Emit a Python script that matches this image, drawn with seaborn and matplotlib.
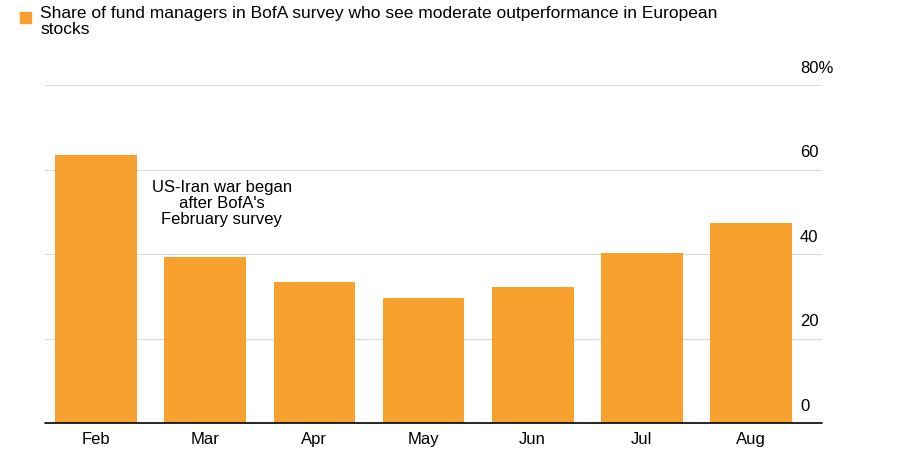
import matplotlib.pyplot as plt
import seaborn as sns
import pandas as pd

months = ['Feb', 'Mar', 'Apr', 'May', 'Jun', 'Jul', 'Aug']
share = [63.5, 39.3, 33.5, 29.5, 32.3, 40.3, 47.3]
ytick_vals = [0, 20, 40, 60, 80]
ytick_labels = ['0', '20', '40', '60', '80%']

df = pd.DataFrame({'month': months, 'share': share})

sns.set_theme(style="white")
plt.rcParams['font.family'] = ['Liberation Sans', 'DejaVu Sans']
plt.rcParams['text.color'] = 'black'

fig = plt.figure(figsize=(9, 4.62), dpi=100)
ax = fig.add_axes([0.05, 0.084, 0.863, 0.732])

for v in ytick_vals[1:]:
    ax.axhline(v, color='#d9d9d9', linewidth=0.8, zorder=0)

sns.barplot(data=df, x='month', y='share', color='#F9A12E', saturation=1,
            width=0.75, linewidth=0, ax=ax, zorder=2)

ax.axhline(0, color='black', linewidth=1.2, zorder=3, clip_on=False)
ax.set_xlim(-0.47, 6.65)
ax.set_ylim(0, 80)
ax.set_yticks([])
ax.set_xlabel('')
ax.set_ylabel('')
ax.tick_params(axis='x', length=0, labelsize=12, pad=6, labelcolor='black')
for s in ax.spines.values():
    s.set_visible(False)

trans = ax.get_yaxis_transform()
for v, lab in zip(ytick_vals, ytick_labels):
    ax.text(0.972, v + 2.2, lab, transform=trans, ha='left', va='bottom',
            fontsize=12, color='black')

ax.text(1.15, 52, "US-Iran war began\nafter BofA's\nFebruary survey",
        ha='center', va='center', fontsize=12, linespacing=1.1, zorder=4)

fig.patches.append(plt.Rectangle((0.022, 0.950), 0.012, 0.024,
                                 transform=fig.transFigure, color='#F9A12E'))
fig.text(0.045, 0.988,
         "Share of fund managers in BofA survey who see moderate outperformance in European\nstocks",
         ha='left', va='top', fontsize=12.5, linespacing=1.15)

fig.savefig('out.png', dpi=100)
